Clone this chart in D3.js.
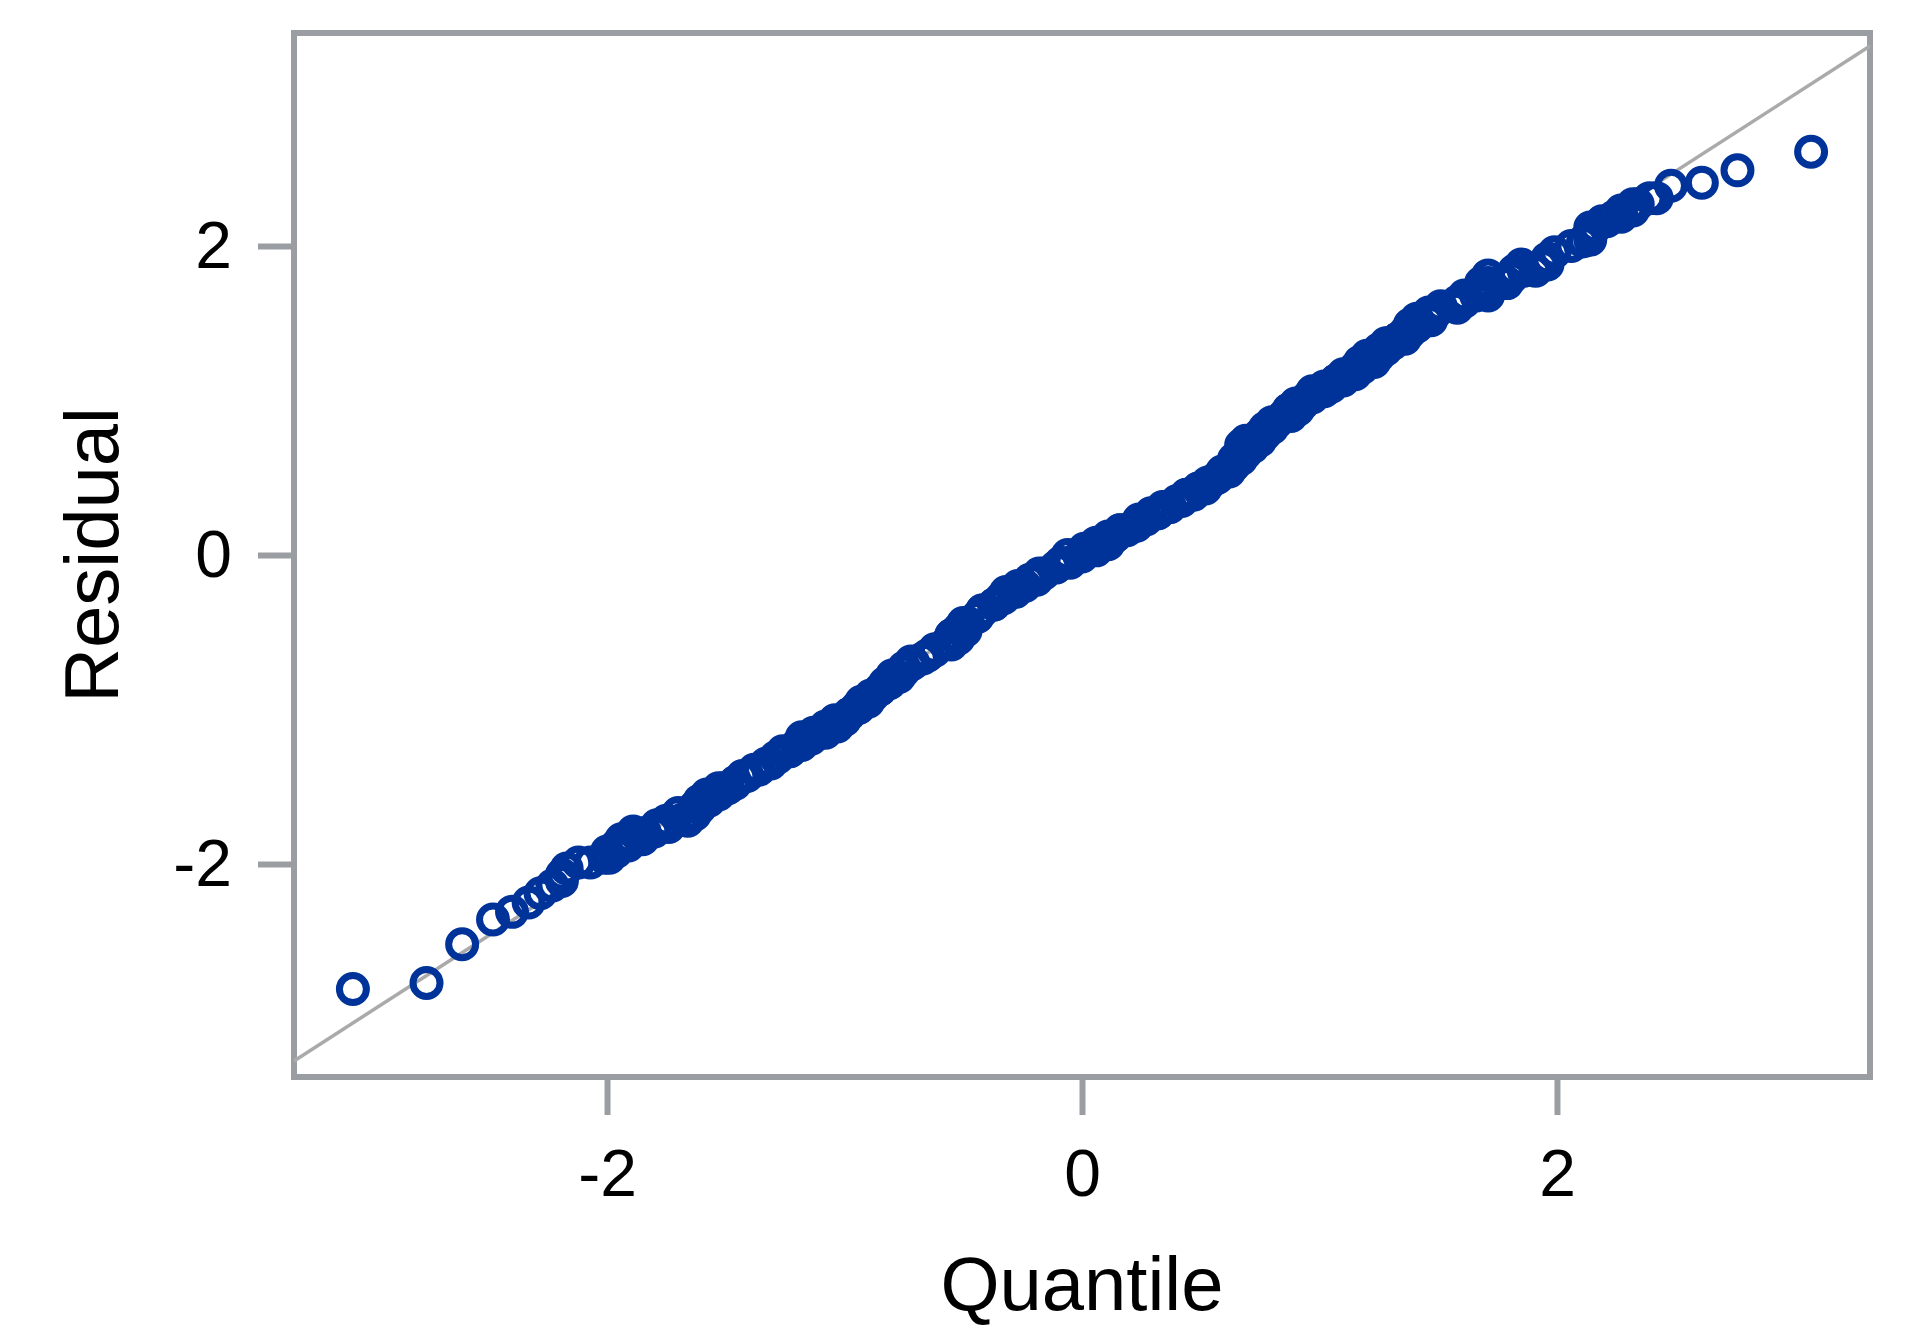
<!DOCTYPE html>
<html>
<head>
<meta charset="utf-8">
<script src="https://d3js.org/d3.v7.min.js"></script>
<style>
  body { margin: 0; background: white; }
  .tick text { font-family: "Liberation Sans", Arial, sans-serif; fill: black; }
  .label { font-family: "Liberation Sans", Arial, sans-serif; fill: black; }
</style>
</head>
<body>
<script>

// theoretical normal quantile of each residual (x) and the sorted residual (y)
var quantile = [-3.07,-2.76,-2.61,-2.48,-2.40,-2.33,-2.28,-2.23,-2.19,-2.19,-2.17,-2.12,-2.07,-1.99,-2.01,-1.96,-2.00,-1.96,-1.94,-1.94,
  -1.91,-1.84,-1.89,-1.74,-1.79,-1.66,-1.68,-1.63,-1.61,-1.61,-1.58,-1.58,-1.56,-1.51,-1.53,-1.46,-1.41,-1.36,-1.38,-1.33,
  -1.31,-1.28,-1.23,-1.26,-1.20,-1.15,-1.18,-1.08,-1.13,-1.03,-1.05,-1.00,-0.98,-0.95,-0.90,-0.93,-0.88,-0.85,-0.83,-0.77,
  -0.80,-0.75,-0.75,-0.72,-0.72,-0.67,-0.65,-0.62,-0.55,-0.52,-0.55,-0.49,-0.52,-0.49,-0.50,-0.44,-0.42,-0.37,-0.34,-0.29,
  -0.32,-0.24,-0.27,-0.19,-0.22,-0.16,-0.11,-0.09,-0.01,-0.06,0.06,0.01,0.11,0.09,0.14,0.19,0.16,0.22,0.24,0.32,
  0.29,0.37,0.34,0.42,0.47,0.44,0.52,0.49,0.54,0.57,0.62,0.59,0.64,0.67,0.64,0.69,0.67,0.72,0.67,0.75,
  0.69,0.77,0.75,0.80,0.77,0.82,0.80,0.88,0.85,0.91,0.87,0.93,0.90,0.97,1.02,0.97,1.05,1.02,1.10,1.07,
  1.15,1.10,1.18,1.15,1.23,1.17,1.25,1.20,1.28,1.25,1.31,1.28,1.36,1.33,1.38,1.36,1.41,1.38,1.46,1.41,
  1.48,1.46,1.58,1.51,1.61,1.71,1.66,1.71,1.68,1.71,1.68,1.81,1.71,1.91,1.86,1.94,1.96,1.96,1.99,2.06,
  2.11,2.14,2.14,2.14,2.16,2.19,2.21,2.24,2.27,2.27,2.32,2.32,2.34,2.39,2.42,2.48,2.61,2.76,3.07,
  // middle of the dense band
  -1.91,-1.85,-1.80,-1.77,-1.75,-1.70,-1.63,-1.57,-1.53,-1.49,-1.46,-1.43,-1.37,-1.32,-1.29,-1.23,-1.18,-1.14,-1.10,-1.08,
  -1.04,-0.98,-0.94,-0.91,-0.89,-0.85,-0.81,-0.79,-0.75,-0.71,-0.65,-0.62,-0.57,-0.55,-0.51,
  -0.48,-0.44,-0.42,-0.37,-0.33,-0.28,-0.25,-0.21,-0.18,-0.11,-0.05,0.00,0.03,0.06,0.11,0.16,0.23,0.27,0.32,0.35,
  0.40,0.44,0.49,0.53,0.57,0.61,0.63,0.66,0.69,0.71,0.73,0.75,0.78,0.82,0.85,0.87,0.92,0.95,0.99,
  1.07,1.13,1.16,1.19,1.23,1.27,1.29,1.33,1.37,1.41,1.47,1.49,1.56,1.58,1.61,1.71,1.79,1.81,1.82,1.85];

var residual = [-2.81,-2.77,-2.52,-2.36,-2.31,-2.25,-2.19,-2.14,-2.11,-2.07,-2.03,-1.99,-1.99,-1.96,-1.96,-1.92,-1.92,-1.88,-1.87,-1.84,
  -1.83,-1.80,-1.79,-1.76,-1.75,-1.72,-1.71,-1.68,-1.64,-1.59,-1.59,-1.55,-1.55,-1.51,-1.51,-1.48,-1.43,-1.39,-1.39,-1.35,
  -1.35,-1.31,-1.27,-1.27,-1.23,-1.19,-1.18,-1.15,-1.15,-1.11,-1.11,-1.07,-1.03,-0.99,-0.95,-0.95,-0.91,-0.87,-0.83,-0.79,
  -0.78,-0.75,-0.73,-0.71,-0.69,-0.67,-0.65,-0.62,-0.58,-0.54,-0.52,-0.49,-0.48,-0.45,-0.44,-0.40,-0.36,-0.32,-0.28,-0.24,
  -0.24,-0.20,-0.20,-0.16,-0.16,-0.12,-0.08,-0.05,-0.01,0.00,0.03,0.04,0.07,0.08,0.12,0.16,0.16,0.19,0.23,0.27,
  0.27,0.31,0.31,0.35,0.39,0.39,0.43,0.43,0.47,0.50,0.54,0.54,0.58,0.62,0.62,0.66,0.67,0.70,0.71,0.74,
  0.74,0.78,0.78,0.82,0.82,0.86,0.86,0.90,0.90,0.94,0.94,0.98,0.98,1.02,1.06,1.06,1.09,1.09,1.13,1.13,
  1.17,1.17,1.21,1.21,1.25,1.25,1.29,1.29,1.33,1.33,1.37,1.37,1.40,1.40,1.44,1.44,1.48,1.49,1.52,1.53,
  1.56,1.57,1.60,1.61,1.64,1.68,1.68,1.72,1.72,1.76,1.76,1.80,1.81,1.84,1.84,1.88,1.88,1.92,1.96,2.00,
  2.03,2.04,2.08,2.12,2.12,2.16,2.16,2.19,2.19,2.23,2.23,2.27,2.27,2.31,2.31,2.39,2.41,2.49,2.61,
  // middle of the dense band
  -1.88,-1.84,-1.79,-1.75,-1.72,-1.67,-1.63,-1.59,-1.55,-1.51,-1.47,-1.43,-1.39,-1.35,-1.31,-1.27,-1.23,-1.19,-1.15,-1.11,
  -1.07,-1.03,-0.99,-0.95,-0.91,-0.87,-0.83,-0.79,-0.74,-0.70,-0.65,-0.61,-0.57,-0.52,-0.48,
  -0.44,-0.40,-0.36,-0.32,-0.28,-0.24,-0.20,-0.16,-0.12,-0.08,-0.05,-0.01,0.04,0.08,0.12,0.16,0.19,0.23,0.27,0.31,
  0.35,0.39,0.43,0.47,0.50,0.54,0.58,0.62,0.66,0.70,0.74,0.78,0.82,0.86,0.90,0.94,0.98,1.02,1.06,
  1.13,1.17,1.21,1.25,1.29,1.33,1.37,1.40,1.44,1.48,1.52,1.57,1.61,1.64,1.68,1.72,1.76,1.80,1.84,1.88];

var xTicks = [-2, 0, 2];
var yTicks = [-2, 0, 2];
var xDomain = [-3.318, 3.318];
var yDomain = [-3.379, 3.379];

// reference line drawn behind the points
var refIntercept = 0.01;
var refSlope = 0.99;

var margin = {top: 33, right: 44, bottom: 253, left: 294},
    width = 1914 - margin.left - margin.right,
    height = 1330 - margin.top - margin.bottom;

var frameColor = "#9a9ea2";

var svg = d3.select("body")
  .append("svg")
    .attr("width", 1914)
    .attr("height", 1330)
  .append("g")
    .attr("transform", "translate(" + margin.left + "," + margin.top + ")");

var xScale = d3.scaleLinear().domain(xDomain).range([0, width]);
var yScale = d3.scaleLinear().domain(yDomain).range([height, 0]);

var xAxis = svg.append("g")
  .attr("transform", "translate(0," + height + ")")
  .call(d3.axisBottom(xScale)
    .tickValues(xTicks)
    .tickSize(38)
    .tickSizeOuter(0)
    .tickPadding(34)
    .tickFormat(function(d) { return String(d); }));

var yAxis = svg.append("g")
  .call(d3.axisLeft(yScale)
    .tickValues(yTicks)
    .tickSize(36)
    .tickSizeOuter(0)
    .tickPadding(26)
    .tickFormat(function(d) { return String(d); }));

svg.selectAll(".domain").remove();
svg.selectAll(".tick line").style("stroke", frameColor).style("stroke-width", 6);
svg.selectAll(".tick text").style("font-size", "66px");

// frame
svg.append("rect")
  .attr("x", 0)
  .attr("y", 0)
  .attr("width", width)
  .attr("height", height)
  .style("fill", "none")
  .style("stroke", frameColor)
  .style("stroke-width", 6);

// reference line
svg.append("line")
  .attr("x1", xScale(xDomain[0]))
  .attr("y1", yScale(refIntercept + refSlope * xDomain[0]))
  .attr("x2", xScale(xDomain[1]))
  .attr("y2", yScale(refIntercept + refSlope * xDomain[1]))
  .style("stroke", "#aaaaaa")
  .style("stroke-width", 3.5);

var points = quantile.map(function(q, i) { return {q: q, r: residual[i]}; });

svg.append("g")
  .selectAll("circle")
  .data(points)
  .enter()
  .append("circle")
    .attr("cx", function(d) { return xScale(d.q); })
    .attr("cy", function(d) { return yScale(d.r); })
    .attr("r", 13.5)
    .style("fill", "none")
    .style("stroke", "#003399")
    .style("stroke-width", 7);

// axis titles
svg.append("text")
  .attr("class", "label")
  .attr("x", width / 2)
  .attr("y", 1310 - margin.top)
  .style("text-anchor", "middle")
  .style("font-size", "76px")
  .text("Quantile");

svg.append("text")
  .attr("class", "label")
  .attr("transform", "translate(" + (118 - margin.left) + "," + (height / 2) + ") rotate(-90)")
  .style("text-anchor", "middle")
  .style("font-size", "76px")
  .text("Residual");

</script>
</body>
</html>
